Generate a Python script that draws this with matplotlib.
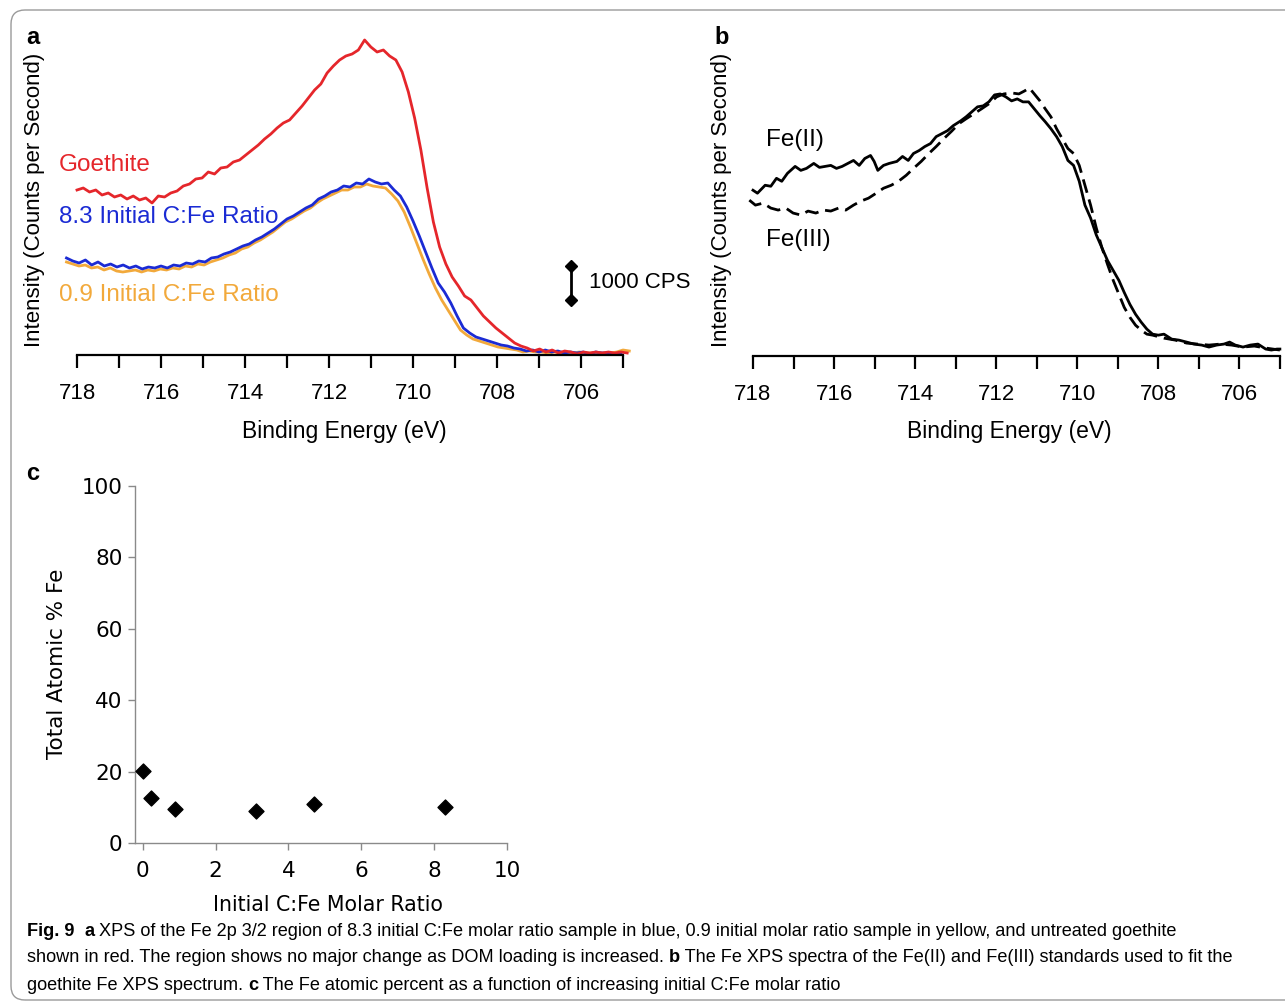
import numpy as np
import matplotlib
matplotlib.use("Agg")
import matplotlib.pyplot as plt
from matplotlib.patches import FancyBboxPatch

W, H = 1285, 1006
SANS = ['Liberation Sans', 'DejaVu Sans']

# ---- panel a: Fe 2p 3/2 spectra, CPS above baseline ----
goethite_cps = [4890, 4950, 4830, 4890, 4740, 4800, 4680, 4740, 4620, 4710, 4590, 4650, 4500, 4710,
                4680, 4800, 4860, 5010, 5070, 5220, 5250, 5430, 5370, 5550, 5580, 5730, 5790, 5940,
                6090, 6240, 6420, 6570, 6750, 6900, 6990, 7200, 7410, 7650, 7890, 8070, 8400, 8610,
                8790, 8910, 8970, 9090, 9390, 9180, 9030, 9090, 8910, 8790, 8430, 7830, 7050, 6090,
                4950, 3930, 3180, 2670, 2280, 2010, 1710, 1590, 1350, 1110, 930, 750, 600, 450,
                300, 210, 150, 60, 120, 30, 90, 0, 60, 30, -30, 30, 0, 30, 0, 30, 0, 30, 0]
ratio83_cps = [2850, 2760, 2700, 2790, 2640, 2730, 2610, 2670, 2580, 2640, 2550, 2610, 2520, 2580,
               2550, 2610, 2550, 2640, 2610, 2700, 2670, 2760, 2730, 2850, 2880, 2970, 3030, 3120,
               3210, 3270, 3390, 3480, 3600, 3720, 3870, 4020, 4110, 4230, 4350, 4440, 4620, 4710,
               4830, 4890, 5010, 4980, 5100, 5070, 5220, 5130, 5070, 5100, 4890, 4710, 4380, 3960,
               3510, 3030, 2550, 2100, 1830, 1500, 1110, 750, 600, 480, 420, 360, 300, 240, 210,
               150, 120, 60, 90, 30, 90, 30, 60, 0, 30, 0, 30, -30, 30, 0, 0, -30, 0]
ratio09_cps = [2730, 2670, 2610, 2640, 2550, 2580, 2490, 2550, 2460, 2430, 2460, 2490, 2430, 2490,
               2460, 2520, 2490, 2550, 2520, 2610, 2580, 2670, 2640, 2730, 2790, 2850, 2940, 3000,
               3120, 3180, 3300, 3390, 3510, 3630, 3780, 3930, 4020, 4140, 4260, 4350, 4500, 4620,
               4710, 4800, 4890, 4890, 4980, 4980, 5070, 5010, 4980, 4950, 4770, 4560, 4230, 3780,
               3300, 2820, 2370, 1950, 1590, 1290, 990, 690, 540, 420, 360, 300, 240, 180, 150,
               120, 90, 30, 60, 30, 30, 0, 30, 0, 0, 0, 30, 0, 0, 0, 0, 0, 30, 90, 60]
energy_goethite = np.linspace(718.0, 704.9, len(goethite_cps))
energy_83 = np.linspace(718.25, 705.05, len(ratio83_cps))
energy_09 = np.linspace(718.25, 704.85, len(ratio09_cps))

# ---- panel b: Fe(II) and Fe(III) standards (arbitrary units) ----
fe2_energy = [718.0, 717.89, 717.70, 717.56, 717.42, 717.29, 717.15, 716.96, 716.82, 716.68, 716.50,
              716.36, 716.22, 716.08, 715.94, 715.80, 715.66, 715.52, 715.38, 715.24, 715.10, 715.01,
              714.92, 714.78, 714.64, 714.45, 714.31, 714.17, 714.04, 713.90, 713.76, 713.62, 713.48,
              713.34, 713.20, 713.06, 712.87, 712.74, 712.60, 712.46, 712.32, 712.18, 712.04, 711.90,
              711.76, 711.62, 711.48, 711.34, 711.20, 711.06, 710.92, 710.79, 710.65, 710.51, 710.37,
              710.23, 710.09, 709.95, 709.81, 709.67, 709.53, 709.39, 709.25, 709.11, 708.97, 708.84,
              708.70, 708.56, 708.42, 708.28, 708.14, 708.0, 707.86, 707.67, 707.49, 707.30, 707.12,
              706.93, 706.75, 706.56, 706.38, 706.24, 706.10, 705.91, 705.73, 705.54, 705.35, 705.21,
              705.07, 705.0]
fe2_int = [165, 162, 170, 169, 177, 174, 182, 189, 185, 187, 192, 188, 189, 190, 187, 189, 192, 195,
           190, 197, 200, 194, 185, 190, 192, 194, 199, 195, 202, 205, 209, 212, 219, 222, 225, 230,
           235, 239, 244, 249, 250, 254, 261, 262, 259, 255, 257, 254, 254, 247, 240, 234, 227, 219,
           209, 195, 190, 174, 150, 137, 120, 107, 94, 84, 74, 62, 50, 40, 32, 25, 20, 19, 20, 15,
           14, 12, 10, 9, 7, 9, 10, 12, 9, 7, 9, 10, 5, 4, 5, 5]
fe3_energy = [718.09, 717.94, 717.75, 717.56, 717.38, 717.19, 717.01, 716.82, 716.64, 716.45, 716.26,
              716.08, 715.89, 715.71, 715.52, 715.34, 715.15, 714.96, 714.78, 714.59, 714.41, 714.22,
              714.04, 713.85, 713.66, 713.48, 713.29, 713.11, 712.92, 712.74, 712.55, 712.36, 712.18,
              711.99, 711.81, 711.62, 711.44, 711.30, 711.18, 711.06, 710.92, 710.79, 710.65, 710.51,
              710.37, 710.23, 710.09, 709.95, 709.81, 709.67, 709.53, 709.39, 709.25, 709.11, 708.97,
              708.84, 708.70, 708.56, 708.42, 708.28, 708.14, 707.86, 707.58, 707.30, 707.03, 706.75,
              706.47, 706.19, 705.91, 705.63, 705.35, 705.0]
fe3_int = [155, 150, 152, 147, 145, 147, 142, 140, 144, 142, 145, 144, 147, 145, 150, 154, 157, 162,
           167, 170, 174, 180, 187, 194, 202, 209, 217, 224, 232, 237, 242, 247, 252, 259, 262, 263,
           262, 265, 268, 262, 255, 247, 239, 227, 217, 207, 202, 190, 170, 150, 127, 107, 90, 74,
           60, 47, 37, 29, 24, 20, 19, 16, 14, 11, 10, 9, 10, 9, 7, 8, 6, 4]

# ---- panel c: total atomic % Fe ----
cfe_ratio = [0, 0.23, 0.9, 3.1, 4.7, 8.3]
fe_percent = [20.1, 12.6, 9.5, 9.0, 10.8, 10.1]

RED, BLUE, YELLOW = '#E5262B', '#1B2BD4', '#F2A93B'

fig = plt.figure(figsize=(W / 100, H / 100), dpi=100)


def fx(px):
    return px / W


def fy(py):
    return 1 - py / H


def spectrum_axis(ax, left_lim, right_lim):
    ax.set_xlim(left_lim, right_lim)
    for s in ['top', 'right', 'left']:
        ax.spines[s].set_visible(False)
    ax.spines['bottom'].set_linewidth(1.6)
    ax.spines['bottom'].set_bounds(705, 718)
    ax.set_yticks([])
    ax.set_xticks([718, 716, 714, 712, 710, 708, 706])
    ax.set_xticks([717, 715, 713, 711, 709, 707, 705], minor=True)
    ax.tick_params(axis='x', which='both', direction='out', length=9, width=1.6, pad=11,
                   labelsize=16)
    ax.tick_params(axis='x', which='minor', labelbottom=False)
    for t in ax.get_xticklabels():
        t.set_family(SANS)
    ax.patch.set_visible(False)


# panel a
axa = fig.add_axes([fx(64.4), fy(355), fx(567), (355 - 35) / H])
axa.plot(energy_09, ratio09_cps, color=YELLOW, lw=2.0)
axa.plot(energy_83, ratio83_cps, color=BLUE, lw=2.0)
axa.plot(energy_goethite, goethite_cps, color=RED, lw=2.0)
axa.set_ylim(-60, 9540)
spectrum_axis(axa, 718.3, 704.8)
axa.plot([706.24, 706.24], [1600, 2600], color='black', lw=2, marker='D', ms=6, clip_on=False)
axa.text(705.8, 2100, '1000 CPS', fontsize=16, va='center', ha='left', family=SANS, clip_on=False)
fig.text(fx(59), fy(165), 'Goethite', color=RED, fontsize=17.5, va='center', family=SANS)
fig.text(fx(59), fy(217), '8.3 Initial C:Fe Ratio', color=BLUE, fontsize=17.5, va='center', family=SANS)
fig.text(fx(59), fy(295), '0.9 Initial C:Fe Ratio', color=YELLOW, fontsize=17.5, va='center', family=SANS)
fig.text(fx(35), fy(200), 'Intensity (Counts per Second)', rotation=90, fontsize=16,
         ha='center', va='center', family=SANS)
fig.text(fx(344), fy(432), 'Binding Energy (eV)', fontsize=16.5, ha='center', va='center', family=SANS)
fig.text(fx(33), fy(37), 'a', fontsize=17, weight='bold', ha='center', va='center', family=SANS)

# panel b
axb = fig.add_axes([fx(746.9), fy(356), fx(535), (356 - 85) / H])
axb.plot(fe3_energy, fe3_int, color='black', lw=2.0, dashes=(5, 2.5))
axb.plot(fe2_energy, fe2_int, color='black', lw=2.0)
axb.set_ylim(-2, 271)
spectrum_axis(axb, 718.15, 704.95)
fig.text(fx(766), fy(140), 'Fe(II)', fontsize=17.5, va='center', family=SANS)
fig.text(fx(766), fy(240), 'Fe(III)', fontsize=17.5, va='center', family=SANS)
fig.text(fx(722), fy(200), 'Intensity (Counts per Second)', rotation=90, fontsize=16,
         ha='center', va='center', family=SANS)
fig.text(fx(1009), fy(432), 'Binding Energy (eV)', fontsize=16.5, ha='center', va='center', family=SANS)
fig.text(fx(722), fy(37), 'b', fontsize=17, weight='bold', ha='center', va='center', family=SANS)

# panel c
axc = fig.add_axes([fx(135), fy(843), fx(372), (843 - 486) / H])
axc.scatter(cfe_ratio, fe_percent, marker='D', s=58, color='black', zorder=3, clip_on=False)
axc.set_xlim(-0.21, 10)
axc.set_ylim(0, 100)
axc.set_xticks([0, 2, 4, 6, 8, 10])
axc.set_yticks([0, 20, 40, 60, 80, 100])
for s in ['top', 'right']:
    axc.spines[s].set_visible(False)
for s in ['left', 'bottom']:
    axc.spines[s].set_color('#8a8a8a')
    axc.spines[s].set_linewidth(1.0)
axc.tick_params(direction='out', length=5, width=1.0, color='#8a8a8a', labelsize=15.5)
axc.tick_params(axis='x', pad=8)
axc.tick_params(axis='y', pad=4)
axc.patch.set_visible(False)
fig.text(fx(57), fy(664), 'Total Atomic % Fe', rotation=90, fontsize=15.5, ha='center', va='center')
fig.text(fx(328), fy(905), 'Initial C:Fe Molar Ratio', fontsize=14.8, ha='center', va='center')
fig.text(fx(33), fy(473), 'c', fontsize=17, weight='bold', ha='center', va='center', family=SANS)

# caption
cap_lines = [
    [('Fig. 9', 'bold'), ('  ', 'normal'), ('a', 'bold'),
     (' XPS of the Fe 2p 3/2 region of 8.3 initial C:Fe molar ratio sample in blue, 0.9 initial molar '
      'ratio sample in yellow, and untreated goethite', 'normal')],
    [('shown in red. The region shows no major change as DOM loading is increased. ', 'normal'),
     ('b', 'bold'), (' The Fe XPS spectra of the Fe(II) and Fe(III) standards used to fit the', 'normal')],
    [('goethite Fe XPS spectrum. ', 'normal'), ('c', 'bold'),
     (' The Fe atomic percent as a function of increasing initial C:Fe molar ratio', 'normal')],
]
renderer = fig.canvas.get_renderer()


def line_width(line, size):
    total = 0
    for txt, wt in line:
        t = fig.text(0, 0, txt, fontsize=size, weight=wt, family=SANS)
        total += t.get_window_extent(renderer).width
        t.remove()
    return total


# fit the longest caption line between x=27 and x=1240
cap_size = 14 * (1240 - 27) / max(line_width(l, 14) for l in cap_lines)
for line, ypx in zip(cap_lines, [932, 958, 985]):
    x = 27
    for txt, wt in line:
        t = fig.text(fx(x), fy(ypx), txt, fontsize=cap_size, weight=wt, va='center', ha='left',
                     family=SANS)
        x += t.get_window_extent(renderer).width

# rounded frame
frame = FancyBboxPatch((11, 6), 1300, 990, boxstyle='round,pad=0,rounding_size=14',
                       transform=None, fill=False, edgecolor='#9a9a9a', lw=1.0)
fig.patches.append(frame)

fig.savefig('out.png', dpi=100)
